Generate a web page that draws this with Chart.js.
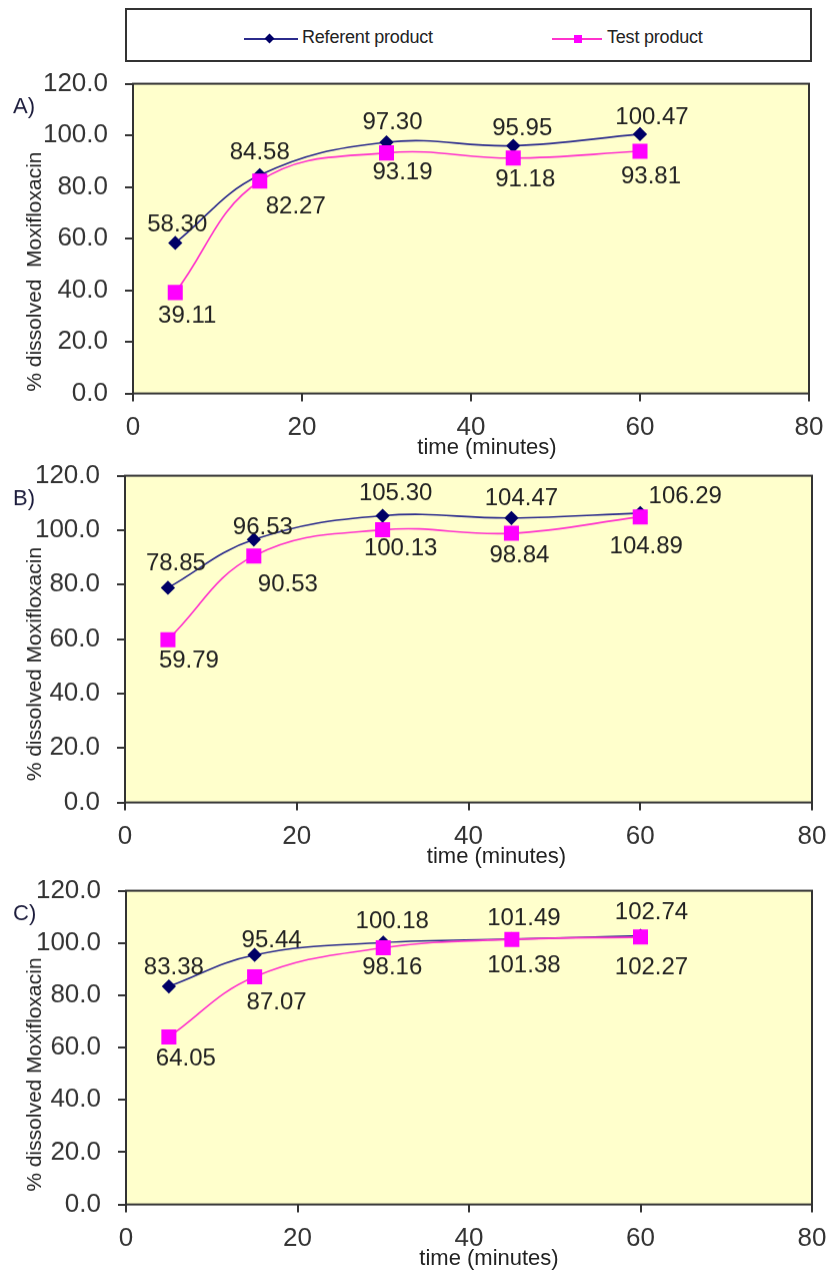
<!DOCTYPE html>
<html>
<head>
<meta charset="utf-8">
<script src="https://cdn.jsdelivr.net/npm/chart.js@4.4.1/dist/chart.umd.min.js"></script>
<style>
  body { margin: 0; background: #fff; width: 828px; height: 1273px; position: relative; overflow: hidden;
         font-family: "Liberation Sans", Arial, sans-serif; }
  canvas.panel { position: absolute; left: 0; }
  #legend { position: absolute; left: 125px; top: 8px; width: 683px; height: 50px; border: 2px solid #333; box-sizing: content-box; }
  .line { position: absolute; top: 28px; height: 2px; }
  .mark { position: absolute; }
  .txt { position: absolute; top: 17px; font-size: 18px; color: #222; white-space: nowrap; letter-spacing: -0.2px; }
</style>
</head>
<body>
<div id="legend">
  <div class="line" style="left:117px;width:54px;background:#2b2b8c"></div>
  <div class="mark" style="left:139px;top:25px;width:7px;height:7px;background:#000066;transform:rotate(45deg)"></div>
  <div class="txt" id="leg0" style="left:175px"></div>
  <div class="line" style="left:425px;width:50px;background:#ff33cc"></div>
  <div class="mark" style="left:447px;top:25px;width:8px;height:8px;background:#ff00ff"></div>
  <div class="txt" id="leg1" style="left:480px"></div>
</div>
<canvas id="chartA" class="panel"></canvas>
<canvas id="chartB" class="panel"></canvas>
<canvas id="chartC" class="panel"></canvas>
<script>
// dissolution data
const times = [5, 15, 30, 45, 60];
const refA = [58.30, 84.58, 97.30, 95.95, 100.47];
const testA = [39.11, 82.27, 93.19, 91.18, 93.81];
const refB = [78.85, 96.53, 105.30, 104.47, 106.29];
const testB = [59.79, 90.53, 100.13, 98.84, 104.89];
const refC = [83.38, 95.44, 100.18, 101.49, 102.74];
const testC = [64.05, 87.07, 98.16, 101.38, 102.27];
const seriesNames = ['Referent product', 'Test product'];
const panelNames = ['A)', 'B)', 'C)'];
const xMin = 0, xMax = 80, xStep = 20;
const yMin = 0, yMax = 120, yStep = 20;
const xTitle = 'time (minutes)';
const yTitles = ['% dissolved  Moxifloxacin', '% dissolved Moxifloxacin', '% dissolved Moxifloxacin'];

document.getElementById('leg0').textContent = seriesNames[0];
document.getElementById('leg1').textContent = seriesNames[1];

Chart.defaults.font.family = '"Liberation Sans", Arial, sans-serif';

// where each plot box sits on the page and where its value labels go
const panels = [
  { id: 'chartA', ref: refA, test: testA, plotTop: 84, plotBottom: 393, left: 133, right: 809, xh: 72,
    yShift: 33, xShift: 16,
    refOff: [[2, -18], [0, -22], [6, -20], [9, -17], [12, -17]],
    testOff: [[12, 23], [36, 26], [16, 20], [12, 22], [11, 25]] },
  { id: 'chartB', ref: refB, test: testB, plotTop: 476, plotBottom: 802, left: 125, right: 812, xh: 73,
    yShift: 25, xShift: 28,
    refOff: [[8, -24], [9, -12], [13, -22], [10, -19], [45, -16]],
    testOff: [[21, 21], [34, 29], [18, 19], [8, 22], [6, 30]] },
  { id: 'chartC', ref: refC, test: testC, plotTop: 891, plotBottom: 1204, left: 126, right: 812, xh: 69,
    yShift: 27, xShift: 20,
    refOff: [[5, -19], [17, -14], [9, -21], [12, -21], [11, -23]],
    testOff: [[17, 22], [22, 26], [9, 20], [12, 26], [11, 31]] }
];

const panelDeco = {
  id: 'panelDeco',
  beforeDraw(chart) {
    const a = chart.chartArea, ctx = chart.ctx;
    ctx.save();
    ctx.fillStyle = '#ffffcc';
    ctx.fillRect(a.left, a.top, a.right - a.left, a.bottom - a.top);
    ctx.restore();
  },
  beforeDatasetsDraw(chart) {
    const a = chart.chartArea, ctx = chart.ctx;
    ctx.save();
    ctx.strokeStyle = '#333';
    ctx.lineWidth = 2;
    ctx.strokeRect(a.left, a.top, a.right - a.left, a.bottom - a.top);
    ctx.restore();
  },
  afterDraw(chart) {
    const o = chart.options.plugins.panelDeco;
    const a = chart.chartArea, ctx = chart.ctx;
    ctx.save();
    // value labels
    ctx.font = '24px "Liberation Sans", Arial, sans-serif';
    ctx.fillStyle = '#222';
    ctx.textAlign = 'center';
    ctx.textBaseline = 'middle';
    chart.data.datasets.forEach((ds, di) => {
      const meta = chart.getDatasetMeta(di);
      meta.data.forEach((pt, i) => {
        const off = ds.labelOff[i];
        ctx.fillText(ds.data[i].y.toFixed(2), pt.x + off[0], pt.y + off[1]);
      });
    });
    // panel letter
    ctx.font = '22px "Liberation Sans", Arial, sans-serif';
    ctx.fillStyle = '#1c1c3c';
    ctx.textAlign = 'left';
    ctx.fillText(o.name, 13, a.top + 23);
    // axis titles
    ctx.fillStyle = '#222';
    ctx.font = '22px "Liberation Sans", Arial, sans-serif';
    ctx.textAlign = 'center';
    ctx.fillText(xTitle, (a.left + a.right) / 2 + o.xShift, a.bottom + 54);
    ctx.translate(35, (a.top + a.bottom) / 2 + o.yShift);
    ctx.rotate(-Math.PI / 2);
    ctx.font = '21px "Liberation Sans", Arial, sans-serif';
    ctx.fillText(o.yTitle, 0, 0);
    ctx.restore();
  }
};

panels.forEach((p, k) => {
  const cv = document.getElementById(p.id);
  cv.width = 828;
  cv.height = 420;
  cv.style.width = '828px';
  cv.style.height = '420px';
  const chart = new Chart(cv, {
    type: 'line',
    data: {
      datasets: [
        {
          label: seriesNames[0],
          data: times.map((t, i) => ({ x: t, y: p.ref[i] })),
          borderColor: '#2b2b8c',
          backgroundColor: '#000066',
          borderWidth: 1.6,
          pointStyle: 'rectRot',
          pointRadius: 6,
          pointBorderColor: '#000066',
          pointBackgroundColor: '#000066',
          tension: 0.4,
          order: 1,
          labelOff: p.refOff
        },
        {
          label: seriesNames[1],
          data: times.map((t, i) => ({ x: t, y: p.test[i] })),
          borderColor: '#ff33cc',
          backgroundColor: '#ff00ff',
          borderWidth: 1.6,
          pointStyle: 'rect',
          pointRadius: 9.5,
          pointBorderColor: '#ff00ff',
          pointBackgroundColor: '#ff00ff',
          tension: 0.4,
          order: 0,
          labelOff: p.testOff
        }
      ]
    },
    options: {
      responsive: false,
      maintainAspectRatio: false,
      animation: false,
      layout: { padding: 0 },
      plugins: {
        legend: { display: false },
        tooltip: { enabled: false },
        panelDeco: { name: panelNames[k], yTitle: yTitles[k], xShift: p.xShift, yShift: p.yShift }
      },
      scales: {
        x: {
          type: 'linear', min: xMin, max: xMax,
          afterFit: (s) => { s.height = p.xh; s.paddingLeft = 0; s.paddingRight = 828 - p.right; },
          ticks: { stepSize: xStep, color: '#333', font: { size: 26 }, padding: 11, maxRotation: 0 },
          grid: { drawOnChartArea: false, drawTicks: true, tickLength: 8, color: '#333', lineWidth: 2 },
          border: { display: false }
        },
        y: {
          min: yMin, max: yMax,
          afterFit: (s) => { s.width = p.left; },
          ticks: { stepSize: yStep, color: '#333', font: { size: 26 }, padding: 17,
                   callback: (v) => Number(v).toFixed(1) },
          grid: { drawOnChartArea: false, drawTicks: true, tickLength: 8, color: '#333', lineWidth: 2 },
          border: { display: false }
        }
      }
    },
    plugins: [panelDeco]
  });
  // place the canvas so the plot box lands where it is in the figure
  const canvasTop = p.plotTop - chart.chartArea.top;
  cv.style.top = canvasTop + 'px';
  chart.resize(828, p.plotBottom + p.xh - canvasTop);
});
</script>
</body>
</html>
